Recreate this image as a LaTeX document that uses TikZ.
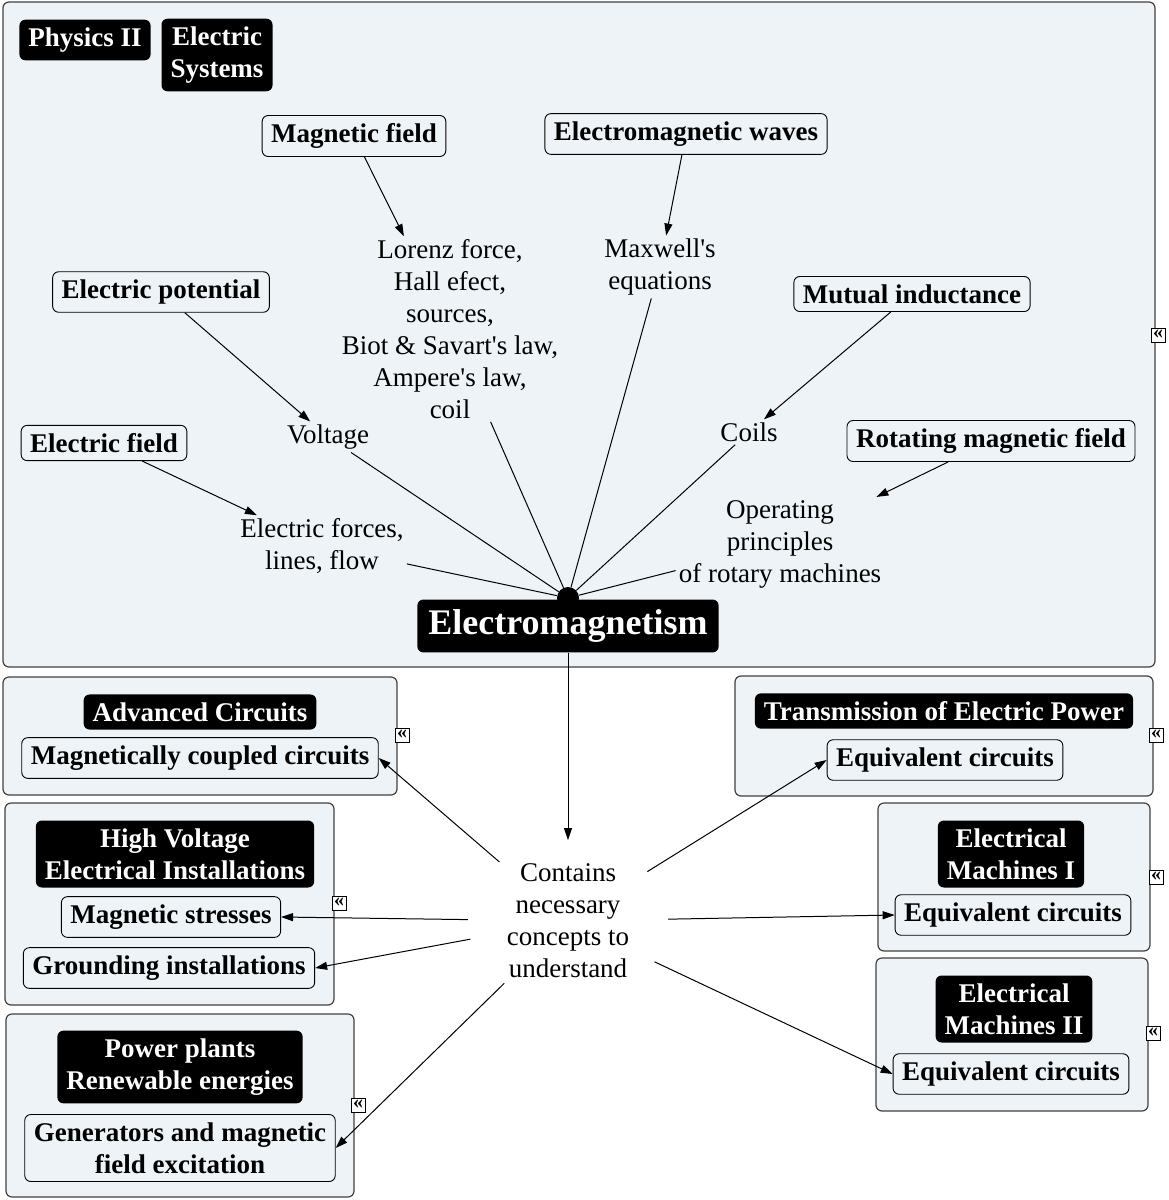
\documentclass[tikz,border=0pt]{standalone}
\usepackage{fontspec}
\setmainfont{Liberation Serif}[Ligatures=TeXOff]
\usetikzlibrary{arrows.meta}
\usetikzlibrary{shapes.geometric}
\definecolor{paneback}{RGB}{237,243,246}
\tikzset{panel/.style={draw=black!75, line width=1.2pt, fill=paneback, rounded corners=6pt},
 heading/.style={fill=black, text=white, rounded corners=6pt, inner xsep=9pt, inner ysep=8pt,
   align=center, font=\fontsize{27}{32}\selectfont\bfseries},
 concept/.style={draw=black, line width=0.9pt, fill=paneback, rounded corners=6pt, inner xsep=9pt,
   inner ysep=8pt, align=center, font=\fontsize{27}{32}\selectfont\bfseries},
 term/.style={align=center, inner sep=3pt, font=\fontsize{27}{32}\selectfont},
 link/.style={line width=1pt},
 pointer/.style={link, -{Triangle[length=12pt,width=8pt]}},
 collapse/.style={draw=black, fill=white, line width=0.8pt, inner sep=0pt, minimum size=14pt,
   font=\fontsize{20}{20}\selectfont\bfseries},
 }

\begin{document}
\begin{tikzpicture}[x=1pt, y=-1pt]
        \useasboundingbox (0,0) rectangle (1169,1200);
        \draw[panel] (3,2) rectangle (1155,667);
        \draw[panel] (3,677) rectangle (397,795);
        \draw[panel] (5,803) rectangle (334,1005);
        \draw[panel] (6,1014) rectangle (354,1197);
        \draw[panel] (735,676) rectangle (1153,796);
        \draw[panel] (878,803) rectangle (1150,951);
        \draw[panel] (876,958) rectangle (1148,1111);
        \foreach \x/\y in {1158/335, 402/735, 1156/735, 339/903, 1156/877, 358/1105, 1153/1033} {
            \node[collapse] at (\x, \y) {\raisebox{1.5pt}{«}};
        }

        \node[heading] (physics) at (85,40) {Physics II};
        \node[heading] (systems) at (217,55) {Electric\\Systems};

        \node[concept] (magfield) at (354,136) {Magnetic field};
        \node[concept] (waves) at (686,134) {Electromagnetic waves};
        \node[concept] (potential) at (161,292) {Electric potential};
        \node[concept] (mutual) at (912,294) {Mutual inductance};
        \node[concept] (efield) at (104,443) {Electric field};
        \node[concept] (rotating) at (991,441) {Rotating magnetic field};

        \node[term] (lorenz) at (450,329) {Lorenz force,\\Hall efect,\\sources,\\Biot \& Savart's law,\\Ampere's law,\\coil};
        \node[term] (maxwell) at (660,267) {Maxwell's\\equations};
        \node[term] (voltage) at (328,437) {Voltage};
        \node[term] (coils) at (749,432) {Coils};
        \node[term] (forces) at (322,546) {Electric forces,\\lines, flow};
        \node[term] (rotary) at (780,544) {Operating\\principles\\of rotary machines};

        \node[circle, fill=black, inner sep=0pt, minimum size=22pt] (hub) at (568,598) {};
        \node[heading, inner xsep=11pt, inner ysep=10pt, font=\fontsize{36}{43}\selectfont\bfseries] (em) at (568,626) {Electromagnetism};

        \foreach \t in {forces, voltage, lorenz, maxwell, coils, rotary} {
            \draw[link] (hub) -- (\t);
        }
        \draw[pointer] (magfield) -- (lorenz);
        \draw[pointer] (waves) -- (maxwell);
        \draw[pointer] (potential) -- (voltage);
        \draw[pointer] (mutual) -- (coils);
        \draw[pointer] (efield) -- (forces);
        \draw[pointer] (rotating) -- (rotary);

        \node[term, ellipse, inner sep=0pt, minimum width=200pt] (contains) at (568,921) {Contains\\necessary\\concepts to\\understand};
        \draw[pointer] (em) -- (contains);

        \node[heading] (advanced) at (200,712) {Advanced Circuits};
        \node[concept] (coupled) at (200,758) {Magnetically coupled circuits};
        \node[heading] (highvolt) at (175,854) {High Voltage\\Electrical Installations};
        \node[concept] (stresses) at (171,917) {Magnetic stresses};
        \node[concept] (grounding) at (169,968) {Grounding installations};
        \node[heading] (plants) at (180,1067) {Power plants\\Renewable energies};
        \node[concept] (generators) at (180,1148) {Generators and magnetic\\field excitation};
        \node[heading] (transmission) at (944,711) {Transmission of Electric Power};
        \node[concept] (equivtrans) at (945,760) {Equivalent circuits};
        \node[heading] (machinesone) at (1011,854) {Electrical\\Machines I};
        \node[concept] (equivone) at (1013,915) {Equivalent circuits};
        \node[heading] (machinestwo) at (1014,1009) {Electrical\\Machines II};
        \node[concept] (equivtwo) at (1011,1074) {Equivalent circuits};

        \draw[pointer] (contains) -- (coupled.east);
        \draw[pointer] (contains) -- (stresses.east);
        \draw[pointer] (contains) -- (grounding.east);
        \draw[pointer] (contains) -- (generators.east);
        \draw[pointer] (contains) -- (equivtrans.west);
        \draw[pointer] (contains) -- (equivone.west);
        \draw[pointer] (contains) -- (equivtwo.west);
    \end{tikzpicture}
\end{document}
